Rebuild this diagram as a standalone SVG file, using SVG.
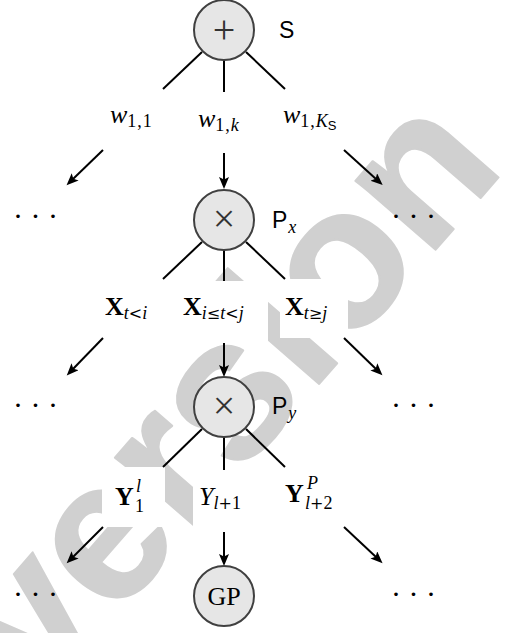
<svg xmlns="http://www.w3.org/2000/svg" width="505" height="633" viewBox="0 0 505 633">
  <style>
    .op { fill: #e6e6e6; stroke: #404040; stroke-width: 2; }
    .edge { stroke: #000; stroke-width: 2; fill: none; }
    .arrow { stroke: #000; stroke-width: 2; fill: none; marker-end: url(#head); }
    .box { fill: #fff; }
    .m { font-family: "Liberation Serif", "DejaVu Serif", serif; font-size: 26px; fill: #000; }
    .opsym { font-family: "Liberation Serif", "DejaVu Serif", serif; font-size: 40px; fill: #333; }
    .it { font-style: italic; }
    .bf { font-weight: bold; }
    .sub { font-size: 18px; }
    .rel { font-family: "DejaVu Serif", "Liberation Serif", serif; font-style: normal; font-size: 16px; }
    .sf { font-family: "Liberation Sans", "DejaVu Sans", sans-serif; font-style: normal; }
    .name { font-family: "Liberation Sans", "DejaVu Sans", sans-serif; font-size: 23px; fill: #000; }
    .dots { font-family: "Liberation Serif", serif; font-size: 30px; fill: #000; }
    .wm { font-family: "Liberation Sans", "DejaVu Sans", sans-serif; font-size: 200px; font-weight: bold; fill: #d0d0d0; stroke: #d0d0d0; stroke-width: 2; stroke-linejoin: round; }
  </style>
  <defs>
    <marker id="head" markerUnits="userSpaceOnUse" markerWidth="14" markerHeight="12" refX="3" refY="5" orient="auto">
      <path d="M0,0 L12,5 L0,10 L2.5,5 z" fill="#000"/>
    </marker>
  </defs>

  <!-- background stamp -->
  <text class="wm" x="40" y="705" transform="rotate(-49 40 705)">version</text>

  <!-- label boxes (white) -->
  <g id="boxes">
    <rect class="box" x="100" y="89" width="65" height="61"/>
    <rect class="box" x="190" y="92" width="68" height="61"/>
    <rect class="box" x="278" y="89" width="72" height="61"/>
    <rect class="box" x="100" y="279" width="65" height="59"/>
    <rect class="box" x="178" y="281" width="90" height="62"/>
    <rect class="box" x="280" y="279" width="68" height="59"/>
    <rect class="box" x="102" y="467" width="63" height="60"/>
    <rect class="box" x="193" y="470" width="60" height="62"/>
    <rect class="box" x="280" y="467" width="68" height="60"/>
  </g>

  <!-- connectors -->
  <g id="connectors">
    <line class="edge" x1="202" y1="52" x2="163" y2="89"/>
    <line class="edge" x1="224" y1="60" x2="224" y2="92"/>
    <line class="edge" x1="246" y1="52" x2="285" y2="89"/>
    <line class="arrow" x1="103" y1="150" x2="73" y2="179"/>
    <line class="arrow" x1="224" y1="153" x2="224" y2="180"/>
    <line class="arrow" x1="344" y1="150" x2="376" y2="179"/>

    <line class="edge" x1="202" y1="242" x2="163" y2="279"/>
    <line class="edge" x1="224" y1="250" x2="224" y2="281"/>
    <line class="edge" x1="246" y1="242" x2="285" y2="279"/>
    <line class="arrow" x1="103" y1="338" x2="73" y2="369"/>
    <line class="arrow" x1="224" y1="343" x2="224" y2="368"/>
    <line class="arrow" x1="344" y1="338" x2="376" y2="369"/>

    <line class="edge" x1="202" y1="429" x2="163" y2="467"/>
    <line class="edge" x1="224" y1="437" x2="224" y2="470"/>
    <line class="edge" x1="246" y1="429" x2="285" y2="467"/>
    <line class="arrow" x1="103" y1="527" x2="73" y2="557"/>
    <line class="arrow" x1="224" y1="532" x2="224" y2="557"/>
    <line class="arrow" x1="344" y1="527" x2="376" y2="557"/>
  </g>

  <!-- sum node -->
  <g id="S">
    <circle class="op" cx="224" cy="30" r="30"/>
    <text class="opsym" x="224" y="43" text-anchor="middle">+</text>
    <text class="name" x="279" y="38">S</text>
  </g>

  <!-- weight labels -->
  <g id="w11">
    <text class="m" x="110" y="123"><tspan class="it">w</tspan><tspan class="sub" dy="4" letter-spacing="1">1,1</tspan></text>
  </g>
  <g id="w1k">
    <text class="m" x="198" y="127"><tspan class="it">w</tspan><tspan class="sub" dy="4" letter-spacing="1">1,</tspan><tspan class="sub it">k</tspan></text>
  </g>
  <g id="w1K">
    <text class="m" x="283" y="123"><tspan class="it">w</tspan><tspan class="sub" dy="4" letter-spacing="1">1,</tspan><tspan class="sub it">K</tspan><tspan class="sf" font-size="13" dy="3">S</tspan></text>
  </g>

  <!-- product node x -->
  <g id="Px">
    <circle class="op" cx="224" cy="220" r="30"/>
    <text class="opsym" x="224" y="232" text-anchor="middle">×</text>
    <text class="name" x="272" y="228">P<tspan class="m it sub" dx="1" dy="5">x</tspan></text>
  </g>
  <g id="dots1">
    <text class="dots" x="13" y="226">· · ·</text>
    <text class="dots" x="391" y="226">· · ·</text>
  </g>

  <!-- time-slice labels -->
  <g id="Xlt">
    <text class="m" x="105" y="315"><tspan class="bf">X</tspan><tspan class="sub" dy="4"><tspan class="it">t</tspan><tspan class="rel">&lt;</tspan><tspan class="it">i</tspan></tspan></text>
  </g>
  <g id="Xmid">
    <text class="m" x="183" y="315"><tspan class="bf">X</tspan><tspan class="sub" dy="4"><tspan class="it">i</tspan><tspan class="rel">≤</tspan><tspan class="it">t</tspan><tspan class="rel">&lt;</tspan><tspan class="it">j</tspan></tspan></text>
  </g>
  <g id="Xge">
    <text class="m" x="285" y="315"><tspan class="bf">X</tspan><tspan class="sub" dy="4"><tspan class="it">t</tspan><tspan class="rel">≥</tspan><tspan class="it">j</tspan></tspan></text>
  </g>

  <!-- product node y -->
  <g id="Py">
    <circle class="op" cx="224" cy="407" r="30"/>
    <text class="opsym" x="224" y="419" text-anchor="middle">×</text>
    <text class="name" x="272" y="414">P<tspan class="m it sub" dx="1" dy="5">y</tspan></text>
  </g>
  <g id="dots2">
    <text class="dots" x="13" y="415">· · ·</text>
    <text class="dots" x="391" y="415">· · ·</text>
  </g>

  <!-- output labels -->
  <g id="Y1">
    <text class="m bf" x="115" y="505">Y</text>
    <text class="m sub" x="135" y="512">1</text>
    <text class="m sub it" x="136" y="492">l</text>
  </g>
  <g id="Yl1">
    <text class="m" x="199" y="505"><tspan class="it">Y</tspan><tspan class="sub" dy="4"><tspan class="it">l</tspan><tspan class="rel">+</tspan>1</tspan></text>
  </g>
  <g id="YP">
    <text class="m bf" x="285" y="502">Y</text>
    <text class="m sub" x="305" y="509"><tspan class="it">l</tspan><tspan class="rel">+</tspan>2</text>
    <text class="m sub it" x="307" y="489">P</text>
  </g>

  <!-- leaf -->
  <g id="GP">
    <circle class="op" cx="224" cy="596" r="30"/>
    <text class="m" x="224" y="605" text-anchor="middle" font-size="25">GP</text>
  </g>
  <g id="dots3">
    <text class="dots" x="13" y="604">· · ·</text>
    <text class="dots" x="391" y="604">· · ·</text>
  </g>
</svg>
